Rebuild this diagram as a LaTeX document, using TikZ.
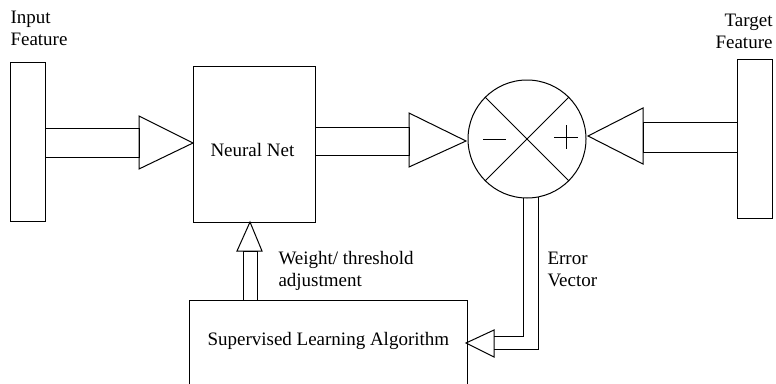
\documentclass[tikz,border=0pt]{standalone}
\usepackage{fontspec}
\setmainfont{Liberation Serif}
\begin{document}
\begin{tikzpicture}[x=1pt,y=-1pt,line width=1pt,
  lbl/.style={font=\fontsize{19}{22}\selectfont, inner sep=0pt},
  fat/.style={draw, line join=miter}]
\useasboundingbox (0,0) rectangle (776,383);
\clip (0,0) rectangle (776,383);
% bars and boxes
\draw (10,62) rectangle (45,221);
\draw (737,59) rectangle (772,218);
\node[draw, minimum width=122pt, minimum height=156pt, inner sep=0pt] (nn) at (254,144) {};
\node[lbl, anchor=base west] (nnt) at (210,156) {Neural Net};
\draw (189,390) -- (189,300) -- (467,300) -- (467,390);
\node[lbl, anchor=base west] (sla) at (207,345) {Supervised Learning Algorithm};
% comparator
\node[draw, circle, minimum size=118pt, inner sep=0pt] (cmp) at (527,139) {};
\draw (cmp.north west) -- (cmp.south east);
\draw (cmp.north east) -- (cmp.south west);
\draw (483,139) -- (506,139);
\draw (566,125) -- (566,149) (554,137) -- (578,137);
% arrow 1
\draw[fat] (45,128) rectangle (139,157);
\draw[fat] (139,116) -- (193,143) -- (139,169) -- cycle;
% arrow 2
\draw[fat] (315,127) rectangle (409,155);
\draw[fat] (409,113) -- (466,141) -- (409,167) -- cycle;
% arrow 3
\draw[fat] (643,122) rectangle (737,152);
\draw[fat] (643,108) -- (588,136) -- (643,164) -- cycle;
% weight arrow
\draw[fat] (243,251) rectangle (257,300);
\draw[fat] (237,251) -- (250,222) -- (262,251) -- cycle;
% error path
\draw (523,198) -- (523,336) -- (494,336);
\draw (538,197) -- (538,349) -- (494,349);
\draw[fat] (494,330) -- (466,343) -- (494,357) -- cycle;
% labels
\node[lbl, anchor=base west, align=left] at (10,45) {Input\\Feature};
\node[lbl, anchor=base east, align=right] at (773,48) {Target\\Feature};
\node[lbl, anchor=base west, align=left] at (278,286) {Weight/ threshold\\adjustment};
\node[lbl, anchor=base west, align=left] at (547,286) {Error\\Vector};
\end{tikzpicture}
\end{document}
